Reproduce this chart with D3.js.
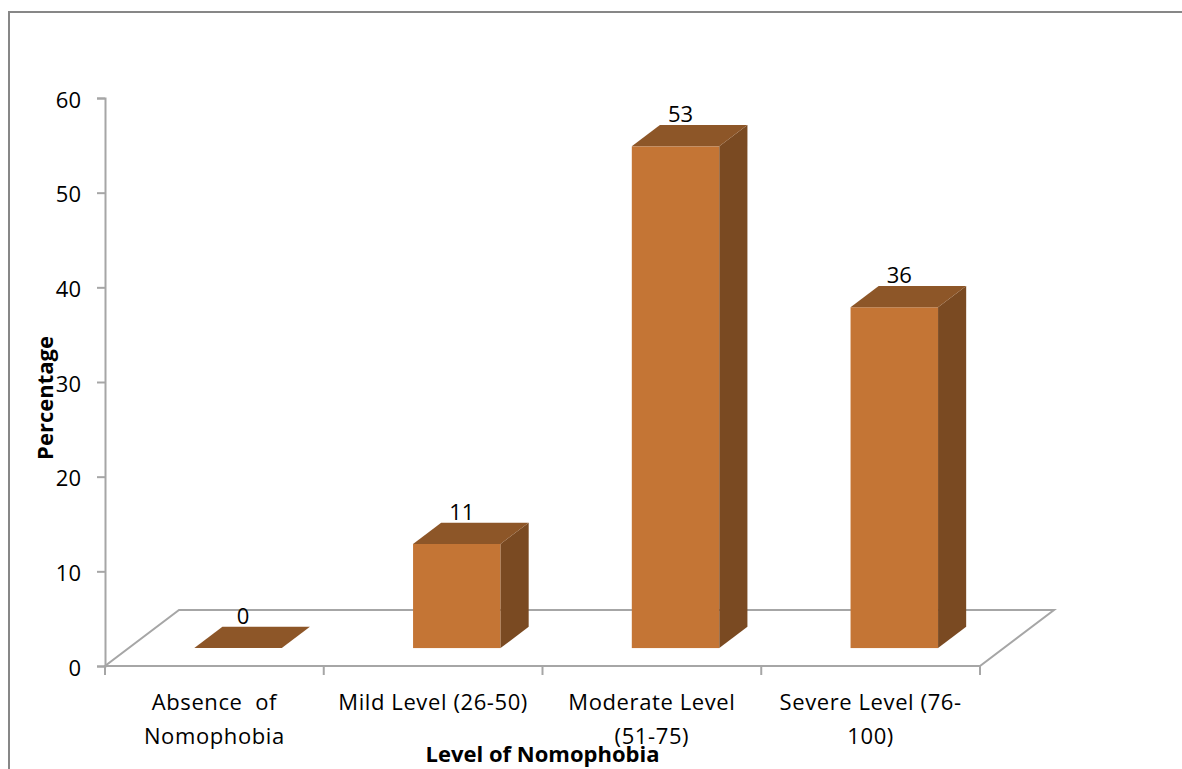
<!DOCTYPE html>
<html>
<head>
<meta charset="utf-8">
<script src="https://cdn.jsdelivr.net/npm/d3@7"></script>
<style>
  html, body { margin: 0; padding: 0; background: #fff; }
  svg text { font-family: "Open Sans", "Noto Sans", sans-serif; fill: #000; }
</style>
</head>
<body>
<svg id="chart" width="1182" height="769"></svg>
<script>
// Nomophobia levels among respondents (percent)
const categories = [
  ["Absence  of", "Nomophobia"],
  ["Mild Level (26-50)"],
  ["Moderate Level", "(51-75)"],
  ["Severe Level (76-", "100)"]
];
const values = [0, 11, 53, 36];
const yTicks = [0, 10, 20, 30, 40, 50, 60];
const xTitle = "Level of Nomophobia";
const yTitle = "Percentage";

const svg = d3.select("#chart");
const W = 1182, H = 769;

// outer frame
svg.append("rect")
  .attr("x", 9).attr("y", 12)
  .attr("width", W + 20).attr("height", H + 20)
  .attr("fill", "none").attr("stroke", "#878787").attr("stroke-width", 2);

const plot = { left: 105, right: 980, top: 98, bottom: 666 };
const y = d3.scaleLinear().domain([0, 60]).range([plot.bottom, plot.top]);
const x = d3.scaleBand().domain(d3.range(categories.length))
  .range([plot.left, plot.right]).padding(0);

// oblique projection of the floor depth
const depth = { dx: 74, dy: -56 };
const f0 = 0.32, f1 = 0.70;          // bar front / back depth fraction
const sx0 = depth.dx * f0, sy0 = depth.dy * f0;
const bdx = depth.dx * (f1 - f0), bdy = depth.dy * (f1 - f0);
const barW = x.bandwidth() * 0.4;

const gridColor = "#a6a6a6";

// floor
const floor = [
  [plot.left, plot.bottom],
  [plot.right, plot.bottom],
  [plot.right + depth.dx, plot.bottom + depth.dy],
  [plot.left + depth.dx, plot.bottom + depth.dy]
];
svg.append("polygon")
  .attr("points", floor.map(p => p.join(",")).join(" "))
  .attr("fill", "none").attr("stroke", gridColor).attr("stroke-width", 2)
  .attr("stroke-linejoin", "miter");

// y axis
const yAxis = d3.axisLeft(y).tickValues(yTicks).tickSize(8).tickPadding(16);
const gy = svg.append("g").attr("transform", `translate(${plot.left},0)`).call(yAxis);
gy.select(".domain").attr("stroke", gridColor).attr("stroke-width", 2);
gy.selectAll(".tick line").attr("stroke", gridColor).attr("stroke-width", 2);
gy.selectAll(".tick text").attr("font-size", 22).attr("dy", "0.42em")
  .style("font-family", "'Open Sans', sans-serif");

// x axis ticks at category boundaries
const bounds = d3.range(categories.length + 1).map(i =>
  i < categories.length ? x(i) : plot.right);
svg.append("g").selectAll("line").data(bounds).join("line")
  .attr("x1", d => d).attr("x2", d => d)
  .attr("y1", plot.bottom).attr("y2", plot.bottom + 9)
  .attr("stroke", gridColor).attr("stroke-width", 2);

// category labels
const catG = svg.append("g");
categories.forEach((lines, i) => {
  const t = catG.append("text")
    .attr("x", x(i) + x.bandwidth() / 2)
    .attr("y", 710)
    .attr("text-anchor", "middle")
    .attr("font-size", 22)
    .attr("letter-spacing", 0.6)
    .style("white-space", "pre");
  lines.forEach((ln, j) => {
    t.append("tspan").attr("x", x(i) + x.bandwidth() / 2)
      .attr("dy", j === 0 ? 0 : 34).text(ln);
  });
});

// bars
const colors = { front: "#c47535", top: "#8d5628", side: "#7a4a22" };
const bars = svg.append("g");
const pts = a => a.map(p => p.join(",")).join(" ");
values.forEach((v, i) => {
  const cx = x(i) + x.bandwidth() / 2 + sx0;
  const x0 = cx - barW / 2, x1 = cx + barW / 2;
  const yb = y(0) + sy0, yt = y(v) + sy0;
  if (v > 0) {
    bars.append("rect").attr("x", x0).attr("y", yt)
      .attr("width", barW).attr("height", yb - yt).attr("fill", colors.front);
    bars.append("polygon")
      .attr("points", pts([[x1, yt], [x1 + bdx, yt + bdy], [x1 + bdx, yb + bdy], [x1, yb]]))
      .attr("fill", colors.side);
  }
  bars.append("polygon")
    .attr("points", pts([[x0, yt], [x1, yt], [x1 + bdx, yt + bdy], [x0 + bdx, yt + bdy]]))
    .attr("fill", colors.top);
  // value label
  bars.append("text")
    .attr("x", cx + 5)
    .attr("y", yt + bdy - 3)
    .attr("text-anchor", "middle")
    .attr("font-size", 22)
    .text(v);
});

// axis titles
svg.append("text")
  .attr("x", (plot.left + plot.right) / 2)
  .attr("y", 762)
  .attr("text-anchor", "middle")
  .attr("font-size", 22).attr("font-weight", "bold")
  .text(xTitle);

svg.append("text")
  .attr("transform", `translate(53,398) rotate(-90)`)
  .attr("text-anchor", "middle")
  .attr("font-size", 22).attr("font-weight", "bold")
  .text(yTitle);
</script>
</body>
</html>
